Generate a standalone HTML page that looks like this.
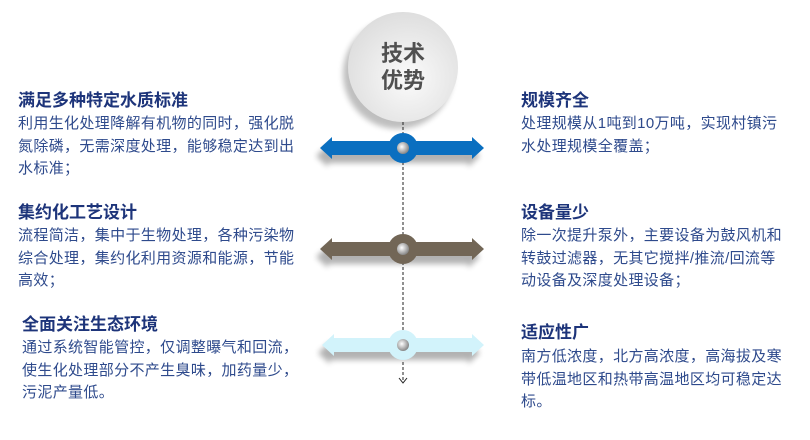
<!DOCTYPE html>
<html><head><meta charset="utf-8"><style>
body{margin:0;width:810px;height:440px;background:#fff;position:relative;overflow:hidden;font-family:"Liberation Sans","Noto Sans CJK SC",sans-serif}
.t{position:absolute;font-weight:bold;font-size:17px;color:#1d347a;white-space:nowrap;line-height:20px}
.b{position:absolute;font-size:15px;color:#2e4a8c;line-height:22.7px;white-space:nowrap;letter-spacing:0.35px}
.c{position:absolute;left:348px;width:110px;text-align:center;font-size:22px;font-weight:bold;color:#505050;line-height:27px}
</style></head><body>
<svg width="810" height="440" style="position:absolute;left:0;top:0">
<defs>
<radialGradient id="cg" cx="0.55" cy="0.6" r="0.6"><stop offset="0" stop-color="#fbfbfb"/><stop offset="1" stop-color="#dedede"/></radialGradient>
<filter id="sh" x="-30%" y="-30%" width="160%" height="180%"><feGaussianBlur stdDeviation="3"/></filter>
<radialGradient id="hole" cx="0.4" cy="0.4" r="0.6"><stop offset="0" stop-color="#fff"/><stop offset="1" stop-color="#888"/></radialGradient>
</defs>
<circle cx="398" cy="74" r="55" fill="#000" opacity="0.25" filter="url(#sh)"/>
<circle cx="403" cy="67" r="55" fill="url(#cg)"/>
<line x1="403" y1="122" x2="403" y2="382" stroke="#222" stroke-width="1" stroke-dasharray="3,2"/>
<path d="M399 378 L403 383 L407 378" fill="none" stroke="#222" stroke-width="1"/>
<g>
<path d="M320 148 L332 137 L332 141 L472 141 L472 137 L484 148 L472 159 L472 155 L332 155 L332 159 Z" fill="#000" opacity="0.3" filter="url(#sh)" transform="translate(-4,8)"/>
<path d="M320 148 L332 137 L332 141 L472 141 L472 137 L484 148 L472 159 L472 155 L332 155 L332 159 Z" fill="#0a6fc0"/>
<circle cx="403" cy="148" r="15" fill="#0a6fc0"/><circle cx="403" cy="148" r="6" fill="url(#hole)"/>
</g>
<g>
<path d="M320 249 L332 238 L332 242 L472 242 L472 238 L484 249 L472 260 L472 256 L332 256 L332 260 Z" fill="#000" opacity="0.3" filter="url(#sh)" transform="translate(-4,8)"/>
<path d="M320 249 L332 238 L332 242 L472 242 L472 238 L484 249 L472 260 L472 256 L332 256 L332 260 Z" fill="#726656"/>
<circle cx="403" cy="249" r="15" fill="#726656"/><circle cx="403" cy="249" r="6" fill="url(#hole)"/>
</g>
<g>
<path d="M322 345 L334 334 L334 338 L472 338 L472 334 L484 345 L472 356 L472 352 L334 352 L334 356 Z" fill="#000" opacity="0.3" filter="url(#sh)" transform="translate(-4,8)"/>
<path d="M322 345 L334 334 L334 338 L472 338 L472 334 L484 345 L472 356 L472 352 L334 352 L334 356 Z" fill="#d2f3fb"/>
<circle cx="403" cy="345" r="15" fill="#d2f3fb"/><circle cx="403" cy="345" r="6" fill="url(#hole)"/>
</g>
</svg>
<div class="c" style="top:40px">技术<br>优势</div>
<div class="t" style="left:18px;top:91px">满足多种特定水质标准</div>
<div class="b" style="left:18px;top:113px">利用生化处理降解有机物的同时，强化脱<br>氮除磷，无需深度处理，能够稳定达到出<br>水标准；</div>
<div class="t" style="left:18px;top:203px">集约化工艺设计</div>
<div class="b" style="left:18px;top:225px">流程简洁，集中于生物处理，各种污染物<br>综合处理，集约化利用资源和能源，节能<br>高效；</div>
<div class="t" style="left:22px;top:315px">全面关注生态环境</div>
<div class="b" style="left:22px;top:337px">通过系统智能管控，仅调整曝气和回流，<br>使生化处理部分不产生臭味，加药量少，<br>污泥产量低。</div>
<div class="t" style="left:521px;top:91px">规模齐全</div>
<div class="b" style="left:521px;top:113px">处理规模从1吨到10万吨，实现村镇污<br>水处理规模全覆盖；</div>
<div class="t" style="left:521px;top:203px">设备量少</div>
<div class="b" style="left:521px;top:225px">除一次提升泵外，主要设备为鼓风机和<br>转鼓过滤器，无其它搅拌/推流/回流等<br>动设备及深度处理设备；</div>
<div class="t" style="left:521px;top:323px">适应性广</div>
<div class="b" style="left:521px;top:346px">南方低浓度，北方高浓度，高海拔及寒<br>带低温地区和热带高温地区均可稳定达<br>标。</div>
</body></html>
